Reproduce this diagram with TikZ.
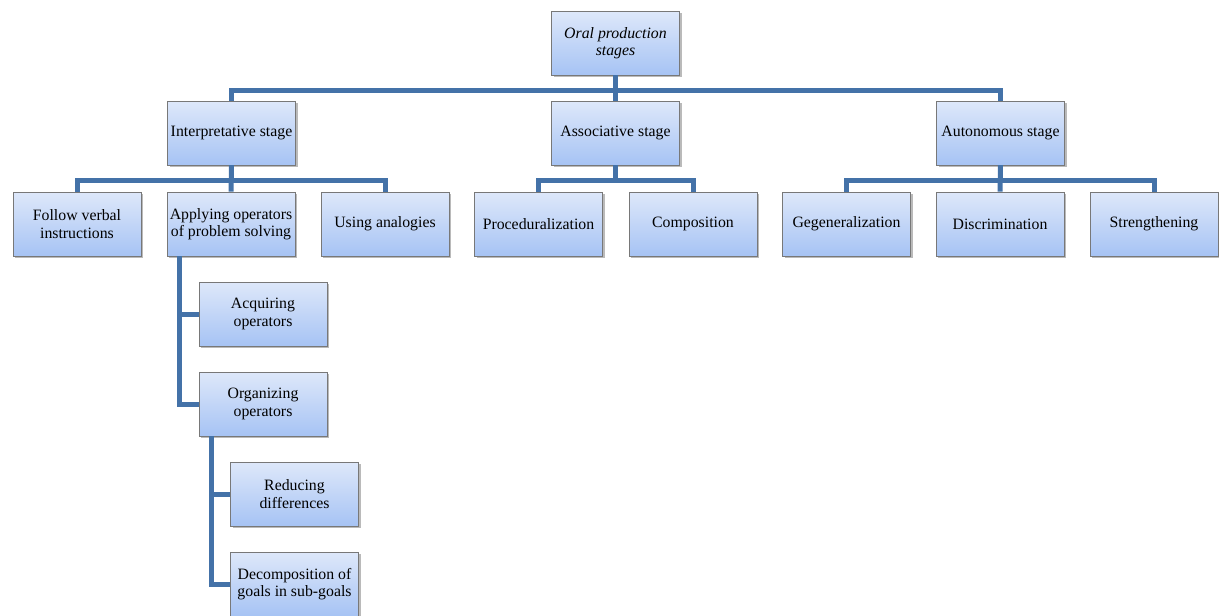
\documentclass[tikz,border=0pt]{standalone}
\usepackage{fontspec}
\setmainfont{Liberation Serif}
\usetikzlibrary{shadows,calc}
\definecolor{linecol}{RGB}{68,114,168}
\definecolor{boxtop}{RGB}{222,232,250}
\definecolor{boxbot}{RGB}{166,195,244}
\definecolor{boxborder}{RGB}{120,120,120}
\tikzset{
  box/.style={draw=boxborder, line width=0.8pt, top color=boxtop, bottom color=boxbot,
    minimum width=128pt, minimum height=64pt, inner sep=0pt, align=center,
    font=\fontsize{15.8}{17.5}\selectfont,
    drop shadow={shadow xshift=2pt, shadow yshift=-2pt, fill=black!45, opacity=0.6}},
  conn/.style={draw=linecol, line width=5pt}
}
\begin{document}
\begin{tikzpicture}[x=1pt,y=1pt]
\useasboundingbox (0,0) rectangle (1219,-616);
\node[box] (root) at (615.5,-43) {\itshape Oral production\\\itshape stages};
\node[box] (interp) at (231.5,-133) {Interpretative stage};
\node[box] (assoc) at (615.5,-133) {Associative stage};
\node[box] (auton) at (1000.5,-133) {Autonomous stage};
\node[box] (follow) at (77,-224) {Follow verbal\\instructions};
\node[box] (apply) at (231,-224) {Applying operators\\of problem solving};
\node[box] (analog) at (385,-224) {Using analogies};
\node[box] (proc) at (538.5,-224) {Proceduralization};
\node[box] (comp) at (693,-224) {Composition};
\node[box] (gen) at (846.5,-224) {Gegeneralization};
\node[box] (disc) at (1000,-224) {Discrimination};
\node[box] (stren) at (1154,-224) {Strengthening};
\node[box] (acq) at (263,-314) {Acquiring\\operators};
\node[box] (org) at (263,-404) {Organizing\\operators};
\node[box] (red) at (294.5,-494) {Reducing\\differences};
\node[box] (dec) at (294.5,-584) {Decomposition of\\goals in sub-goals};
% connectors
\begin{pgfinterruptboundingbox}
\draw[conn] (root.south) -- (assoc.north);
\draw[conn] (root.south) -- ++(0,-15) -| (interp.north);
\draw[conn] (root.south) -- ++(0,-15) -| (auton.north);
\draw[conn] (interp.south) -- (apply.north);
\draw[conn] (interp.south) -- ++(0,-15) -| (follow.north);
\draw[conn] (interp.south) -- ++(0,-15) -| (analog.north);
\draw[conn] (assoc.south) -- ++(0,-15) -| (proc.north);
\draw[conn] (assoc.south) -- ++(0,-15) -| (comp.north);
\draw[conn] (auton.south) -- (disc.north);
\draw[conn] (auton.south) -- ++(0,-15) -| (gen.north);
\draw[conn] (auton.south) -- ++(0,-15) -| (stren.north);
\coordinate (a1) at ($(apply.south west)+(13,0)$);
\draw[conn] (a1) |- (acq.west);
\draw[conn] (a1) |- (org.west);
\coordinate (o1) at ($(org.south west)+(13,0)$);
\draw[conn] (o1) |- (red.west);
\draw[conn] (o1) |- (dec.west);
\end{pgfinterruptboundingbox}
\end{tikzpicture}
\end{document}
